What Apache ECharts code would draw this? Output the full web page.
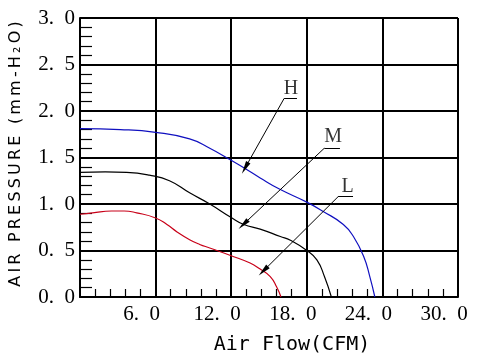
<!DOCTYPE html>
<html><head><meta charset="utf-8">
<script src="https://cdn.jsdelivr.net/npm/echarts@6/dist/echarts.min.js"></script>
<style>html,body{margin:0;padding:0;background:#fff}#c{width:477px;height:358px}</style>
</head><body><div id="c"></div>
<script>
// Axis ranges / ticks
const xMin = 0, xMax = 30, xStep = 6;
const yMin = 0, yMax = 3, yStep = 0.5;

// Curve H (blue)
const flowH = [0, 3.2, 6.0, 8.7, 10.3, 12.0, 13.0, 14.3, 15.9, 18.0, 19.3, 20.9, 21.7, 22.5, 23.0, 23.4];
const presH = [1.81, 1.80, 1.77, 1.70, 1.60, 1.47, 1.39, 1.28, 1.155, 1.02, 0.92, 0.78, 0.65, 0.44, 0.22, 0.0];

// Curve M (black)
const flowM = [0, 2.0, 3.7, 5.5, 7.1, 8.7, 10.3, 12.0, 13.0, 14.3, 15.9, 16.7, 18.0, 18.8, 19.4, 19.95];
const presM = [1.34, 1.345, 1.34, 1.31, 1.25, 1.12, 1.00, 0.855, 0.78, 0.73, 0.65, 0.61, 0.50, 0.40, 0.22, 0.0];

// Curve L (red)
const flowL = [0, 1.0, 2.5, 3.5, 4.5, 6.0, 6.9, 7.7, 8.7, 9.5, 10.3, 12.0, 13.5, 14.3, 15.1, 15.6, 15.95];
const presL = [0.89, 0.905, 0.925, 0.925, 0.905, 0.85, 0.78, 0.70, 0.616, 0.565, 0.527, 0.444, 0.365, 0.30, 0.22, 0.11, 0.0];

// Annotation labels: [flow, pressure, text]
const labelNames = ['H', 'M', 'L'];
const labelFlow = [16.75, 20.1, 21.23];
const labelPres = [2.234, 1.718, 1.19];
// Leader lines: start (underline left end) -> arrow tip on curve
const leaderStartFlow = [16.2, 19.39, 20.48];
const leaderStartPres = [2.135, 1.60, 1.078];
const leaderEndFlow = [13.1, 12.96, 14.55];
const leaderEndPres = [1.387, 0.78, 0.28];
// Underlines end
const underlineEndFlow = [17.22, 20.63, 21.67];

const zip = (a, b) => a.map((v, i) => [v, b[i]]);
const fmt = v => v.toFixed(1).replace('.', '.\u2002');

const gridColor = '#000';
const gridW = 2;
const serif = 'Liberation Serif';
const ts = '\u2009';
const yTitle = ['A','I','R',' ','P','R','E','S','S','U','R','E',' ','(','m','m','-','H','\u2082','O',')'].join(ts);

const chart = echarts.init(document.getElementById('c'), null, {renderer: 'canvas'});
chart.setOption({
  animation: false,
  backgroundColor: '#fff',
  grid: {left: 80, right: 19, top: 18, bottom: 61, containLabel: false},
  xAxis: {
    type: 'value', min: xMin, max: xMax, interval: xStep,
    axisLine: {show: true, lineStyle: {color: gridColor, width: gridW}},
    axisTick: {show: false, inside: true},
    minorTick: {show: true, splitNumber: 5, length: 8, lineStyle: {color: '#000', width: 1.2}},
    splitLine: {show: true, lineStyle: {color: gridColor, width: gridW}},
    axisLabel: {
      fontFamily: serif, fontSize: 21, color: '#000', margin: 7,
      padding: [0, 28, 0, 0],
      formatter: v => v === 0 ? '' : fmt(v)
    }
  },
  yAxis: {
    type: 'value', min: yMin, max: yMax, interval: yStep,
    axisLine: {show: true, lineStyle: {color: gridColor, width: gridW}},
    axisTick: {show: false, inside: true},
    minorTick: {show: true, splitNumber: 5, length: 12, lineStyle: {color: '#000', width: 1.2}},
    splitLine: {show: true, lineStyle: {color: gridColor, width: gridW}},
    axisLabel: {
      fontFamily: serif, fontSize: 21, color: '#000', margin: 5,
      formatter: v => fmt(v)
    }
  },
  graphic: [
    {
      type: 'text', x: 292, y: 345,
      style: {
        text: 'Air Flow(CFM)', fontFamily: 'DejaVu Sans Mono', fontSize: 20,
        fill: '#000', align: 'center', verticalAlign: 'middle'
      }
    },
    {
      type: 'text', rotation: Math.PI / 2, x: 16, y: 154,
      style: {
        text: yTitle,
        fontFamily: 'DejaVu Sans', fontSize: 16, fill: '#000',
        align: 'center', verticalAlign: 'middle'
      }
    }
  ],
  series: [
    {
      type: 'line', name: 'H', data: zip(flowH, presH), showSymbol: false, smooth: 0.5,
      lineStyle: {color: '#1010c0', width: 1.2}, silent: true
    },
    {
      type: 'line', name: 'M', data: zip(flowM, presM), showSymbol: false, smooth: 0.5,
      lineStyle: {color: '#000', width: 1.2}, silent: true
    },
    {
      type: 'line', name: 'L', data: zip(flowL, presL), showSymbol: false, smooth: 0.5,
      lineStyle: {color: '#c80018', width: 1.2}, silent: true
    },
    {
      type: 'scatter', name: 'labels', symbolSize: 0, silent: true,
      data: labelNames.map((n, i) => [labelFlow[i], labelPres[i], n]),
      label: {
        show: true, position: 'inside', formatter: p => p.data[2],
        fontFamily: serif, fontSize: 20, color: '#000'
      },
      markLine: {
        silent: true, animation: false,
        symbol: ['none', 'triangle'], symbolSize: [5, 13],
        label: {show: false},
        lineStyle: {color: '#000', width: 1, type: 'solid'},
        data: labelNames.map((n, i) => [
          {coord: [leaderStartFlow[i], leaderStartPres[i]]},
          {coord: [leaderEndFlow[i], leaderEndPres[i]]}
        ])
      }
    },
    {
      type: 'scatter', name: 'underlines', symbolSize: 0, silent: true,
      data: labelNames.map((n, i) => [labelFlow[i], labelPres[i]]),
      markLine: {
        silent: true, animation: false,
        symbol: ['none', 'none'],
        label: {show: false},
        lineStyle: {color: '#000', width: 1, type: 'solid'},
        data: labelNames.map((n, i) => [
          {coord: [leaderStartFlow[i], leaderStartPres[i]]},
          {coord: [underlineEndFlow[i], leaderStartPres[i]]}
        ])
      }
    }
  ]
});
</script>
</body></html>
